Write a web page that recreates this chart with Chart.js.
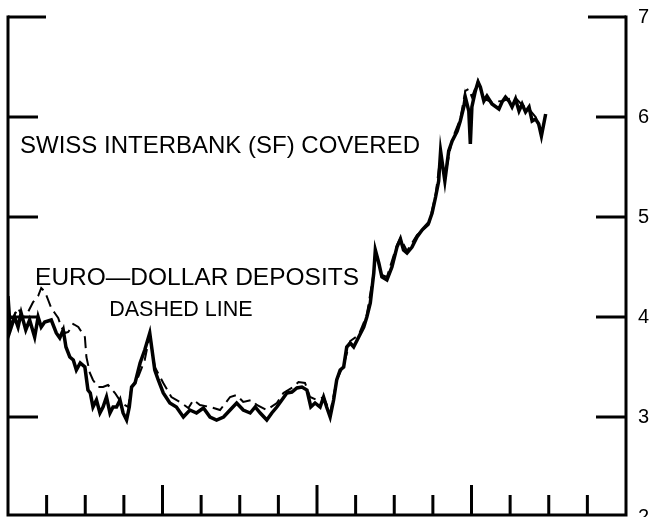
<!DOCTYPE html>
<html>
<head>
<meta charset="utf-8">
<script src="https://cdn.jsdelivr.net/npm/chart.js@4"></script>
<style>
  html, body { margin: 0; padding: 0; background: #fff; }
  canvas { display: block; }
</style>
</head>
<body>
<canvas id="RateChart" width="671" height="517"></canvas>
<script>
// solid line: Swiss interbank (SF) covered
const swissX = [0, 0.06, 0.17, 0.26, 0.34, 0.46, 0.56, 0.69, 0.78, 0.86, 0.95, 1.12, 1.25, 1.34, 1.43, 1.50, 1.60, 1.69, 1.77, 1.87,
    1.99, 2.07, 2.13, 2.20, 2.29, 2.38, 2.46, 2.55, 2.64, 2.72, 2.81, 2.90, 2.98, 3.07, 3.14, 3.20, 3.29, 3.42, 3.54, 3.67,
    3.74, 3.80, 3.89, 4.02, 4.19, 4.36, 4.54, 4.71, 4.88, 5.06, 5.23, 5.40, 5.58, 5.75, 5.92, 6.09, 6.27, 6.40, 6.53, 6.70,
    6.83, 6.96, 7.09, 7.22, 7.35, 7.48, 7.61, 7.74, 7.84, 7.95, 8.08, 8.17, 8.25, 8.34, 8.43, 8.51, 8.60, 8.69, 8.77, 8.86,
    8.95, 9.08, 9.21, 9.29, 9.38, 9.47, 9.51, 9.60, 9.68, 9.81, 9.94, 10.07, 10.16, 10.24, 10.33, 10.46, 10.59, 10.72, 10.89, 10.98,
    11.07, 11.15, 11.20, 11.31, 11.41, 11.50, 11.63, 11.71, 11.80, 11.84, 11.93, 11.97, 12.01, 12.10, 12.17, 12.23, 12.32, 12.40, 12.53, 12.71,
    12.79, 12.88, 12.97, 13.05, 13.14, 13.23, 13.31, 13.40, 13.49, 13.57, 13.66, 13.74, 13.81, 13.92];
const swissY = [4.21, 3.87, 4.00, 3.90, 4.04, 3.87, 3.97, 3.80, 4.00, 3.90, 3.95, 3.97, 3.84, 3.79, 3.87, 3.70, 3.60, 3.57, 3.47, 3.54,
    3.50, 3.27, 3.24, 3.10, 3.17, 3.04, 3.10, 3.20, 3.04, 3.10, 3.10, 3.17, 3.04, 2.97, 3.10, 3.30, 3.34, 3.54, 3.67, 3.84,
    3.64, 3.47, 3.37, 3.24, 3.14, 3.10, 3.00, 3.07, 3.04, 3.09, 3.00, 2.97, 3.00, 3.07, 3.14, 3.07, 3.04, 3.10, 3.04, 2.97,
    3.04, 3.10, 3.17, 3.24, 3.25, 3.29, 3.30, 3.27, 3.10, 3.14, 3.10, 3.20, 3.10, 3.00, 3.17, 3.37, 3.47, 3.50, 3.70, 3.74,
    3.70, 3.80, 3.90, 4.00, 4.14, 4.44, 4.67, 4.54, 4.40, 4.37, 4.50, 4.70, 4.78, 4.67, 4.64, 4.70, 4.80, 4.87, 4.94, 5.04,
    5.20, 5.36, 5.66, 5.36, 5.66, 5.76, 5.86, 5.96, 6.10, 6.20, 6.06, 5.73, 6.10, 6.26, 6.35, 6.30, 6.16, 6.21, 6.13, 6.08,
    6.15, 6.20, 6.16, 6.10, 6.18, 6.06, 6.13, 6.05, 6.10, 5.96, 5.98, 5.93, 5.81, 6.03];

// dashed line: Euro-dollar deposits
const euroX = [0, 0.13, 0.26, 0.39, 0.52, 0.65, 0.78, 0.86, 0.96, 1.04, 1.12, 1.21, 1.30, 1.38, 1.48, 1.56, 1.69, 1.82, 1.99, 2.03,
    2.12, 2.20, 2.33, 2.46, 2.59, 2.77, 2.94, 3.11, 3.20, 3.37, 3.54, 3.67, 3.80, 4.02, 4.23, 4.45, 4.67, 4.80, 4.97, 5.23,
    5.49, 5.75, 5.92, 6.09, 6.31, 6.44, 6.70, 6.96, 7.13, 7.39, 7.52, 7.69, 7.82, 8.00, 8.17, 8.34, 8.51, 8.69, 8.86, 9.08,
    9.29, 9.47, 9.51, 9.68, 9.81, 10.07, 10.16, 10.33, 10.59, 10.89, 11.07, 11.20, 11.31, 11.50, 11.71, 11.84, 11.93, 12.01, 12.17, 12.32,
    12.53, 12.79, 12.97, 13.14, 13.31, 13.49, 13.66, 13.81, 13.92];
const euroY = [3.99, 3.99, 4.09, 3.99, 4.05, 4.15, 4.21, 4.29, 4.25, 4.17, 4.09, 4.04, 3.99, 3.90, 3.84, 3.85, 3.93, 3.90, 3.80, 3.60,
    3.44, 3.37, 3.30, 3.30, 3.32, 3.24, 3.14, 3.10, 3.30, 3.40, 3.57, 3.82, 3.50, 3.34, 3.20, 3.15, 3.09, 3.17, 3.12, 3.10,
    3.07, 3.20, 3.22, 3.15, 3.17, 3.12, 3.07, 3.14, 3.24, 3.30, 3.35, 3.34, 3.20, 3.17, 3.20, 3.04, 3.37, 3.52, 3.76, 3.82,
    4.02, 4.45, 4.66, 4.42, 4.40, 4.72, 4.79, 4.66, 4.82, 4.92, 5.22, 5.62, 5.40, 5.78, 5.98, 6.26, 6.28, 6.20, 6.36, 6.18,
    6.15, 6.16, 6.18, 6.19, 6.12, 6.08, 6.00, 5.85, 6.02];

const yTickValues = [3, 4, 5, 6, 7];
const xTickValues = [1, 2, 3, 4, 5, 6, 7, 8, 9, 10, 11, 12, 13, 14, 15];

// text notes: [text, x, y, font size]
const notes = [
    ['SWISS INTERBANK (SF) COVERED', 0.31, 5.71, 24],
    ['EURO\u2014DOLLAR DEPOSITS', 0.70, 4.39, 24.5],
    ['DASHED LINE', 2.62, 4.07, 21.5]
];

const toPoints = (xs, ys) => xs.map((x, i) => ({ x: x, y: ys[i] }));

const framePlugin = {
    id: 'frame',
    afterDraw(chart) {
        const { ctx, chartArea: a, scales: { x, y } } = chart;
        ctx.save();
        ctx.strokeStyle = '#000';
        ctx.lineWidth = 3;
        const yb = a.bottom - 2;
        ctx.beginPath();
        ctx.moveTo(a.left, a.top - 1.5);
        ctx.lineTo(a.left, yb);
        ctx.lineTo(a.right, yb);
        ctx.lineTo(a.right, a.top - 1.5);
        ctx.stroke();

        ctx.beginPath();
        yTickValues.forEach(v => {
            const py = y.getPixelForValue(v);
            const len = v === 7 ? 38 : 30;
            ctx.moveTo(a.left, py);
            ctx.lineTo(a.left + len, py);
            ctx.moveTo(a.right, py);
            ctx.lineTo(a.right - len, py);
        });
        xTickValues.forEach(v => {
            const px = x.getPixelForValue(v);
            const len = v % 4 === 0 ? 30 : 20;
            ctx.moveTo(px, yb);
            ctx.lineTo(px, yb - len);
        });
        ctx.stroke();

        ctx.fillStyle = '#000';
        ctx.textBaseline = 'middle';
        ctx.textAlign = 'left';
        notes.forEach(n => {
            ctx.font = n[3] + 'px "Liberation Sans", Arial, sans-serif';
            ctx.fillText(n[0], x.getPixelForValue(n[1]), y.getPixelForValue(n[2]));
        });
        ctx.restore();
    }
};

const ctx = document.getElementById('RateChart');

new Chart(ctx, {
    type: 'line',
    data: {
        datasets: [{
            label: 'Swiss interbank (SF) covered',
            data: toPoints(swissX, swissY),
            borderColor: '#000',
            borderWidth: 3.5,
            pointRadius: 0,
            fill: false,
            tension: 0
        },
        {
            label: 'Euro-dollar deposits',
            data: toPoints(euroX, euroY),
            borderColor: '#000',
            borderWidth: 2,
            borderDash: [12, 6],
            pointRadius: 0,
            fill: false,
            tension: 0
        }]
    },
    options: {
        responsive: false,
        animation: false,
        layout: { padding: { left: 8, top: 17, right: 0, bottom: 0 } },
        plugins: {
            legend: { display: false },
            tooltip: { enabled: false }
        },
        scales: {
            x: { type: 'linear', min: 0, max: 16, display: false },
            y: {
                position: 'right',
                min: 2,
                max: 7,
                ticks: {
                    stepSize: 1,
                    padding: 12,
                    color: '#000',
                    font: { family: '"Liberation Sans", Arial, sans-serif', size: 20 }
                },
                grid: { display: false, drawTicks: false },
                border: { display: false },
                afterFit: (scale) => {
                    scale.width = 45;
                    scale.paddingTop = 0;
                    scale.paddingBottom = 0;
                }
            }
        }
    },
    plugins: [framePlugin]
});
</script>
</body>
</html>
